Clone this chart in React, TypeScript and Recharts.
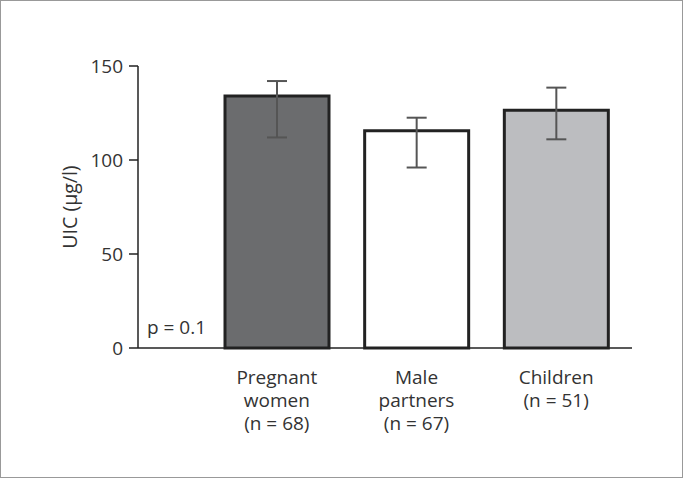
import React from 'react';
import { BarChart, Bar, XAxis, YAxis, ErrorBar, Cell } from 'recharts';

const categories = ['Pregnant women (n = 68)', 'Male partners (n = 67)', 'Children (n = 51)'];
const categoryLines = [
  ['Pregnant', 'women', '(n = 68)'],
  ['Male', 'partners', '(n = 67)'],
  ['Children', '(n = 51)'],
];
const means = [134, 115.5, 126.5];
const lowerErr = [22, 19.5, 15.5];
const upperErr = [8, 7, 12];
const fills = ['#6b6c6e', '#ffffff', '#bcbdc0'];
const yTicks = [0, 50, 100, 150];
const yLabel = 'UIC (μg/l)';
const pText = 'p = 0.1';

const data = categories.map((c, i) => ({
  name: c,
  idx: i,
  value: means[i],
  err: [lowerErr[i], upperErr[i]],
}));

const FONT = '"Open Sans", sans-serif';
const TEXT = '#333';

const XTick = (props: any) => {
  const { x, y, payload } = props;
  const lines = categoryLines[payload.index] || [];
  return (
    <text x={x} y={y + 27.5} textAnchor="middle" fontFamily={FONT} fontSize={19} fill={TEXT}>
      {lines.map((l, k) => (
        <tspan key={k} x={x} dy={k === 0 ? 0 : 23}>
          {l}
        </tspan>
      ))}
    </text>
  );
};

export default function App() {
  return (
    <div style={{ position: 'absolute', left: 0, top: 0, width: 683, height: 478, background: '#fff' }}>
      <div style={{ position: 'absolute', left: 0, top: 0, width: 681, height: 476, border: '1px solid #999' }} />
      <BarChart
        width={683}
        height={478}
        data={data}
        margin={{ top: 66, right: 51, bottom: 0, left: 0 }}
        barCategoryGap={18}
      >
        <XAxis
          dataKey="name"
          axisLine={{ stroke: '#222', strokeWidth: 1.5 }}
          tickLine={false}
          tick={<XTick />}
          interval={0}
          padding={{ left: 69, right: 6 }}
          height={130}
        />
        <YAxis
          domain={[0, 150]}
          ticks={yTicks}
          width={138}
          axisLine={{ stroke: '#222', strokeWidth: 1.5 }}
          tickLine={{ stroke: '#222', strokeWidth: 1.5 }}
          tickSize={9}
          tickMargin={6}
          tick={{ fontFamily: FONT, fontSize: 19, fill: TEXT }}
        />
        <Bar dataKey="value" stroke="#222" strokeWidth={3} isAnimationActive={false}>
          {data.map((d, i) => (
            <Cell key={i} fill={fills[i]} />
          ))}
          <ErrorBar dataKey="err" width={10} stroke="#555" strokeWidth={2} direction="y" />
        </Bar>
        <text
          x={69}
          y={207}
          transform="rotate(-90, 69, 207)"
          textAnchor="middle"
          dominantBaseline="central"
          fontFamily={FONT}
          fontSize={19.5}
          fill={TEXT}
        >
          {yLabel}
        </text>
        <text x={147} y={334} fontFamily={FONT} fontSize={19} fill={TEXT}>
          {pText}
        </text>
      </BarChart>
    </div>
  );
}
